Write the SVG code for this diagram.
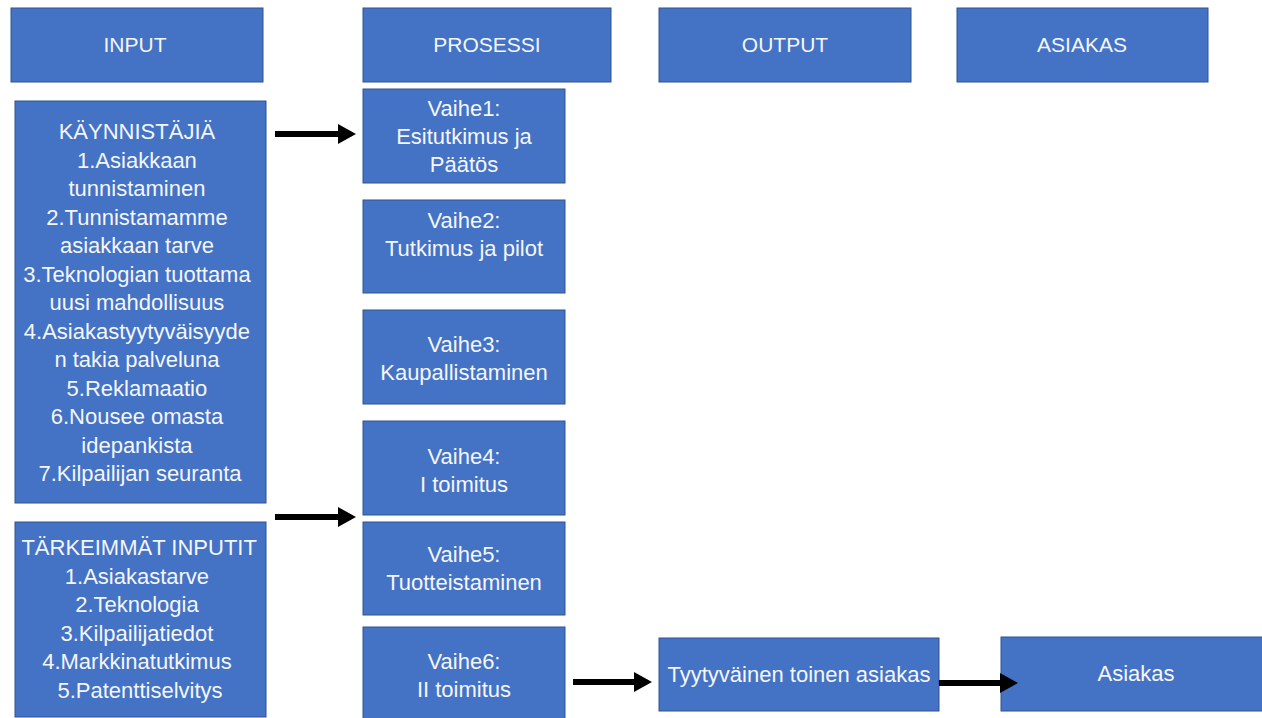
<svg xmlns="http://www.w3.org/2000/svg" width="1262" height="718" viewBox="0 0 1262 718">
  <style>
    .box { fill: #4472C4; stroke: #2F528F; stroke-width: 1; }
    .t { font-family: "Liberation Sans", Arial, sans-serif; font-size: 22px; fill: #F4F6FB; text-anchor: middle; }
    .h { font-family: "Liberation Sans", Arial, sans-serif; font-size: 21px; fill: #F4F6FB; text-anchor: middle; }
    .c { stroke: #000; stroke-width: 6; fill: none; }
  </style>
  <defs>
    <marker id="ah" markerUnits="userSpaceOnUse" markerWidth="18" markerHeight="20" refX="0" refY="10" orient="auto">
      <path d="M0,0 L18,10 L0,20 z" fill="#000"/>
    </marker>
  </defs>
  <rect width="1262" height="718" fill="#fff"/>

  <g id="h-input"><rect class="box" x="11" y="8" width="252" height="74"/><text class="h" x="135" y="52">INPUT</text></g>
  <g id="h-prosessi"><rect class="box" x="363" y="8" width="248" height="74"/><text class="h" x="487" y="52">PROSESSI</text></g>
  <g id="h-output"><rect class="box" x="659" y="8" width="252" height="74"/><text class="h" x="785" y="52">OUTPUT</text></g>
  <g id="h-asiakas"><rect class="box" x="957" y="8" width="251" height="74"/><text class="h" x="1082" y="52">ASIAKAS</text></g>

  <g id="kaynnistajia">
    <rect class="box" x="15" y="101" width="251" height="402"/>
    <text class="t">
      <tspan x="140" y="139">KÄYNNISTÄJIÄ</tspan>
      <tspan x="140" y="167.5">1.Asiakkaan</tspan>
      <tspan x="140" y="196">tunnistaminen</tspan>
      <tspan x="140" y="224.5">2.Tunnistamamme</tspan>
      <tspan x="140" y="253">asiakkaan tarve</tspan>
      <tspan x="140" y="281.5">3.Teknologian tuottama</tspan>
      <tspan x="140" y="310">uusi mahdollisuus</tspan>
      <tspan x="140" y="338.5">4.Asiakastyytyväisyyde</tspan>
      <tspan x="140" y="367">n takia palveluna</tspan>
      <tspan x="140" y="395.5">5.Reklamaatio</tspan>
      <tspan x="140" y="424">6.Nousee omasta</tspan>
      <tspan x="140" y="452.5">idepankista</tspan>
      <tspan x="140" y="481">7.Kilpailijan seuranta</tspan>
    </text>
  </g>

  <g id="tarkeimmat">
    <rect class="box" x="15" y="522" width="251" height="195"/>
    <text class="t">
      <tspan x="142" y="555">TÄRKEIMMÄT INPUTIT</tspan>
      <tspan x="140" y="583.5">1.Asiakastarve</tspan>
      <tspan x="140" y="612">2.Teknologia</tspan>
      <tspan x="140" y="640.5">3.Kilpailijatiedot</tspan>
      <tspan x="140" y="669">4.Markkinatutkimus</tspan>
      <tspan x="140" y="697.5">5.Patenttiselvitys</tspan>
    </text>
  </g>

  <g id="vaihe1"><rect class="box" x="363" y="89" width="202" height="94"/>
    <text class="t"><tspan x="464" y="116">Vaihe1:</tspan><tspan x="464" y="144">Esitutkimus ja</tspan><tspan x="464" y="172">Päätös</tspan></text></g>
  <g id="vaihe2"><rect class="box" x="363" y="200" width="202" height="93"/>
    <text class="t"><tspan x="464" y="228">Vaihe2:</tspan><tspan x="464" y="256">Tutkimus ja pilot</tspan></text></g>
  <g id="vaihe3"><rect class="box" x="363" y="310" width="202" height="94"/>
    <text class="t"><tspan x="464" y="352">Vaihe3:</tspan><tspan x="464" y="380">Kaupallistaminen</tspan></text></g>
  <g id="vaihe4"><rect class="box" x="363" y="421" width="202" height="94"/>
    <text class="t"><tspan x="464" y="464">Vaihe4:</tspan><tspan x="464" y="492">I toimitus</tspan></text></g>
  <g id="vaihe5"><rect class="box" x="363" y="522" width="202" height="93"/>
    <text class="t"><tspan x="464" y="562">Vaihe5:</tspan><tspan x="464" y="590">Tuotteistaminen</tspan></text></g>
  <g id="vaihe6"><rect class="box" x="363" y="627" width="202" height="95"/>
    <text class="t"><tspan x="464" y="669">Vaihe6:</tspan><tspan x="464" y="697">II toimitus</tspan></text></g>

  <g id="tyytyvainen"><rect class="box" x="659" y="638" width="280" height="73"/>
    <text class="t" x="799" y="682">Tyytyväinen toinen asiakas</text></g>
  <g id="asiakas"><rect class="box" x="1001" y="637" width="270" height="74"/>
    <text class="t" x="1136" y="681">Asiakas</text></g>

  <g id="connectors">
    <line class="c" x1="275" y1="134" x2="338" y2="134" marker-end="url(#ah)"/>
    <line class="c" x1="275" y1="517" x2="338" y2="517" marker-end="url(#ah)"/>
    <line class="c" x1="573" y1="682" x2="634" y2="682" marker-end="url(#ah)"/>
    <line class="c" x1="939" y1="683" x2="1000" y2="683" marker-end="url(#ah)"/>
  </g>
</svg>
